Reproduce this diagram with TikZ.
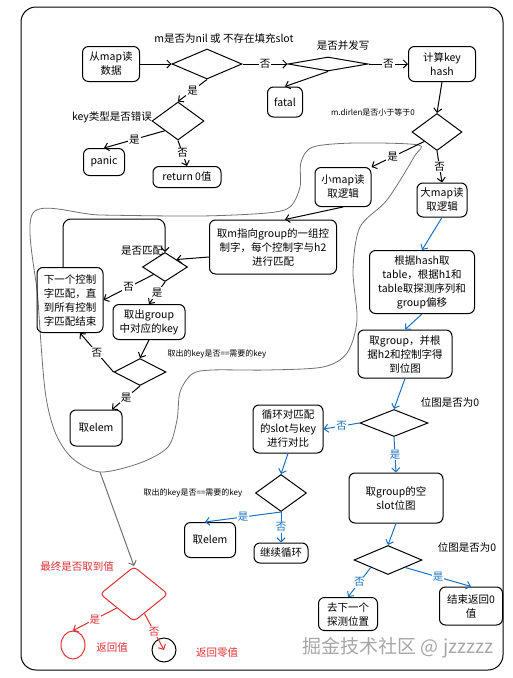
\documentclass[tikz,border=0pt]{standalone}
\usepackage{fontspec}
\setmainfont{Noto Sans CJK SC}
\usetikzlibrary{shapes.geometric,positioning,arrows.meta}
\definecolor{flowblue}{HTML}{1971C2}
\definecolor{flowred}{HTML}{E03131}
\definecolor{blobgray}{HTML}{707070}
\begin{document}
\begin{tikzpicture}[x=1pt,y=-1pt,line width=1pt,>={Straight Barb[length=4pt,width=8pt]},
    box/.style={draw,rectangle,rounded corners=6pt,align=center,inner sep=2pt,font=\fontsize{10.5}{14}\selectfont},
    dia/.style={draw,diamond,inner sep=0pt},
    lab/.style={fill=white,inner sep=1pt,font=\fontsize{10.5}{12}\selectfont},
    note/.style={font=\fontsize{8}{10}\selectfont},
    txt/.style={font=\fontsize{10.5}{12}\selectfont}]
    \useasboundingbox (0,0) rectangle (513,678);
    \draw[rounded corners=15pt] (21,7) rectangle (503,670);

    % small map area
    \draw[blobgray,line width=0.8pt] plot[smooth cycle,tension=0.5] coordinates {(418,145) (355,143) (313,147) (301,162) (300,187) (290,207) (267,213) (200,216) (100,215) (33,213) (38,300) (45,390) (55,432) (72,458) (100,472) (140,463) (168,447) (177,420) (180,392) (192,374) (212,370) (267,370) (323,367) (347,353) (357,320) (353,270) (360,227) (387,200) (414,157)};

    % top row
    \node[box,minimum width=57pt,minimum height=35pt] (read) at (111,64) {从map读\\数据};
    \node[dia,minimum width=70pt,minimum height=30pt,right of=read,node distance=96pt] (nilq) {};
    \node[dia,minimum width=80pt,minimum height=14pt,right of=nilq,node distance=121pt] (concq) {};
    \node[box,minimum width=67pt,minimum height=35pt,right of=concq,node distance=114pt] (hash) {计算key\\hash};
    \node[box,minimum width=35pt,minimum height=30pt] (fatal) at (285,102) {fatal};
    \node[txt] (nilqlab) at (224,38) {m是否为nil 或 不存在填充slot};
    \node[txt] (concqlab) at (343,46) {是否并发写};

    \node[dia,minimum width=52pt,minimum height=38pt] (keyq) at (178,121) {};
    \node[txt] (keyqlab) at (112,117) {key类型是否错误};
    \node[box,minimum width=41pt,minimum height=27pt] (panic) at (104,162) {panic};
    \node[box,minimum width=68pt,minimum height=21pt] (ret) at (187,177) {return 0值};

    \node[dia,minimum width=50pt,minimum height=37pt] (dirq) at (437,132) {};
    \node[note] (dirqlab) at (373,112) {m.dirlen是否小于等于0};

    % small map
    \node[box,minimum width=56pt,minimum height=39pt] (small) at (343,187) {小map读\\取逻辑};
    \node[box,minimum width=127pt,minimum height=54pt] (ctrl) at (273,247) {取m指向group的一组控\\制字，每个控制字与h2\\进行匹配};
    \node[dia,minimum width=45pt,minimum height=29pt] (matchq) at (165,267) {};
    \node[txt] (matchqlab) at (142,251) {是否匹配};
    \node[box,minimum width=66pt,minimum height=65pt] (nextc) at (70,300) {下一个控制\\字匹配，直\\到所有控制\\字匹配结束};
    \node[box,minimum width=72pt,minimum height=35pt] (getkey) at (149,322) {取出group\\中对应的key};
    \node[dia,minimum width=52pt,minimum height=27pt] (cmpq) at (140,372) {};
    \node[note] (cmpqlab) at (217,354) {取出的key是否==需要的key};
    \node[box,minimum width=52pt,minimum height=36pt] (elemA) at (96,428) {取elem};

    % big map
    \node[box,minimum width=50pt,minimum height=34pt] (large) at (442,200) {大map读\\取逻辑};
    \node[box,minimum width=105pt,minimum height=63pt] (probe) at (422,282) {根据hash取\\table，根据h1和\\table取探测序列和\\group偏移};
    \node[box,minimum width=94pt,minimum height=48pt] (bitmap) at (405,354) {取group，并根\\据h2和控制字得\\到位图};
    \node[dia,minimum width=68pt,minimum height=27pt] (bitq) at (394,423) {};
    \node[txt] (bitqlab) at (450,402) {位图是否为0};
    \node[box,minimum width=70pt,minimum height=48pt] (loop) at (288,429) {循环对匹配\\的slot与key\\进行对比};
    \node[dia,minimum width=51pt,minimum height=37pt] (cmpq2) at (281,493) {};
    \node[note] (cmpq2lab) at (193,493) {取出的key是否==需要的key};
    \node[box,minimum width=51pt,minimum height=35pt] (elemB) at (210,540) {取elem};
    \node[box,minimum width=54pt,minimum height=20pt] (cont) at (281,553) {继续循环};
    \node[box,minimum width=94pt,minimum height=50pt] (empty) at (396,498) {取group的空\\slot位图};
    \node[dia,minimum width=68pt,minimum height=29pt] (emptyq) at (388,560) {};
    \node[txt] (emptyqlab) at (467,547) {位图是否为0};
    \node[box,minimum width=59pt,minimum height=33pt] (nextp) at (348,614) {去下一个\\探测位置};
    \node[box,minimum width=63pt,minimum height=38pt] (endz) at (471,606) {结束返回0\\值};

    % result
    \coordinate (blobbot) at (100,472);
    \node[dia,draw=flowred,rounded corners=4pt,minimum width=68pt,minimum height=55pt] (finalq) at (134,594) {};
    \node[txt,text=flowred] (finalqlab) at (77,567) {最终是否取到值};
    \node[draw=flowred,ellipse,minimum width=24pt,minimum height=28pt] (retv) at (73,645) {};
    \node[draw,circle,minimum size=24pt] (retz) at (164,650) {};
    \node[txt,text=flowred] (retvlab) at (112,648) {返回值};
    \node[txt,text=flowred] (retzlab) at (217,653) {返回零值};
    \node[font=\fontsize{19}{19}\selectfont,text=gray!70] (mark) at (398,648) {掘金技术社区 @ jzzzzz};

    % arrows
    \draw[->] (read.east) to (nilq.west);
    \draw[->] (nilq.east) to node[lab] {否} (concq.west);
    \draw[->] (concq.south) to (fatal.north);
    \draw[->] (concq.east) to node[lab] {否} (hash.west);
    \draw[->] (hash.south) to (dirq.north);
    \draw[->] (nilq.south) to node[lab] {是} (keyq.north);
    \draw[->] (keyq.south west) to node[lab] {是} (panic.north);
    \draw[->] (keyq.south) to node[lab] {否} (ret.north);
    \draw[->] (dirq.south west) to node[lab,pos=0.6] {是} (small.north east);
    \draw[->] (dirq.south) to node[lab] {否} (large.north);

    \draw[->] (small.south) to ([xshift=12pt]ctrl.north);
    \draw[->] ([yshift=-10pt]ctrl.west) to (matchq.north east);
    \draw[->] (matchq.south west) to node[lab] {否} (nextc.east);
    \draw[->,rounded corners=8pt] ([xshift=-7pt]nextc.north) -- ++(0,-48) -| (matchq.north);
    \draw[->] (matchq.south) to node[lab] {是} (getkey.north);
    \draw[->] (getkey.south) to (cmpq.north);
    \draw[->] (cmpq.west) to node[lab] {否} ([xshift=10pt]nextc.south);
    \draw[->] (cmpq.south) to node[lab] {是} ([xshift=16pt]elemA.north);

    \begin{scope}[flowblue,every node/.append style={text=flowblue}]
    \draw[->] (large.south) to (probe.north);
    \draw[->] (probe.south) to (bitmap.north);
    \draw[->] (bitmap.south) to (bitq.north);
    \draw[->] (bitq.west) to node[lab] {否} (loop.east);
    \draw[->] (loop.south) to (cmpq2.north);
    \draw[->] (cmpq2.south) to node[lab] {是} ([xshift=-5pt]elemB.north);
    \draw[->] (cmpq2.south) to node[lab] {否} (cont.north);
    \draw[->] (bitq.south) to node[lab] {是} (empty.north);
    \draw[->] (empty.south) to (emptyq.north);
    \draw[->] (emptyq.south west) to node[lab] {否} (nextp.north);
    \draw[->] (emptyq.south east) to node[lab] {是} (endz.north);
    \end{scope}

    \draw[->,blobgray] (blobbot) to (finalq.north);
    \draw[->,flowred] (finalq.south west) to node[lab,text=flowred] {是} (retv.north);
    \draw[->,flowred] (finalq) to node[lab,text=flowred] {否} (retz.center);
\end{tikzpicture}
\end{document}
